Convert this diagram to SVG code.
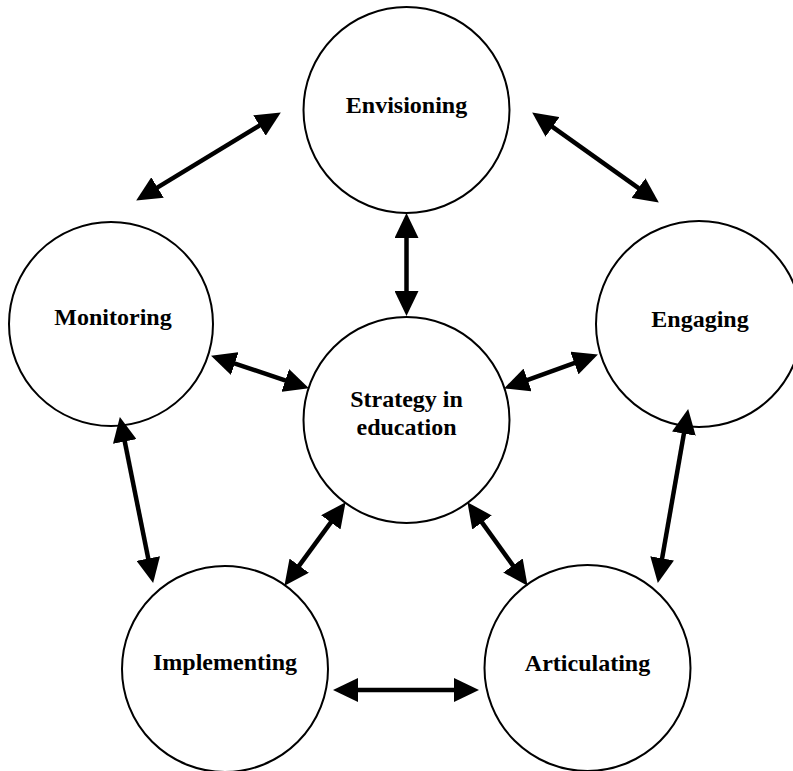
<svg xmlns="http://www.w3.org/2000/svg" width="793" height="771" viewBox="0 0 793 771">
<style>
  .node circle { fill: #ffffff; stroke: #000000; stroke-width: 2; }
  .node text { font-family: "Liberation Serif", "DejaVu Serif", "Times New Roman", serif; font-weight: bold; font-size: 24px; fill: #000000; text-anchor: middle; }
  .conn line { stroke: #000000; stroke-width: 4.5; marker-start: url(#head); marker-end: url(#head); }
</style>
<defs>
  <marker id="head" markerUnits="userSpaceOnUse" markerWidth="25" markerHeight="24" viewBox="0 0 25 24" refX="10" refY="12" orient="auto-start-reverse">
    <path d="M0,0 L25,12 L0,24 z" fill="#000000"/>
  </marker>
</defs>
<rect width="793" height="771" fill="#ffffff"/>
<g id="envisioning" class="node">
  <circle cx="406.5" cy="110" r="103"/>
  <text x="406.5" y="113" font-family="Liberation Serif, DejaVu Serif, serif">Envisioning</text>
</g>
<g id="monitoring" class="node">
  <circle cx="111" cy="324" r="102"/>
  <text x="113" y="325" font-family="Liberation Serif, DejaVu Serif, serif">Monitoring</text>
</g>
<g id="engaging" class="node">
  <circle cx="699" cy="324" r="103"/>
  <text x="700" y="327" font-family="Liberation Serif, DejaVu Serif, serif">Engaging</text>
</g>
<g id="strategy" class="node">
  <circle cx="406.5" cy="420" r="103"/>
  <text x="406.5" y="407" font-family="Liberation Serif, DejaVu Serif, serif">Strategy in</text>
  <text x="406.5" y="435" font-family="Liberation Serif, DejaVu Serif, serif">education</text>
</g>
<g id="implementing" class="node">
  <circle cx="225" cy="669" r="103"/>
  <text x="225" y="670" font-family="Liberation Serif, DejaVu Serif, serif">Implementing</text>
</g>
<g id="articulating" class="node">
  <circle cx="587.5" cy="668" r="103"/>
  <text x="587.5" y="671" font-family="Liberation Serif, DejaVu Serif, serif">Articulating</text>
</g>
<g id="connectors" class="conn">
  <line x1="268" y1="120.3" x2="149" y2="192.7"/>
  <line x1="544.4" y1="121.1" x2="646.6" y2="193.9"/>
  <line x1="406.5" y1="228" x2="406.5" y2="301"/>
  <line x1="225.3" y1="360.4" x2="294.7" y2="383.6"/>
  <line x1="583.8" y1="359.7" x2="518.2" y2="383.3"/>
  <line x1="122.8" y1="431.7" x2="150.2" y2="568.3"/>
  <line x1="685.6" y1="423.8" x2="660.4" y2="568.2"/>
  <line x1="336.7" y1="514.3" x2="293.3" y2="573.7"/>
  <line x1="476.2" y1="514.4" x2="518.8" y2="573.6"/>
  <line x1="348" y1="690" x2="464" y2="690"/>
</g>
</svg>
